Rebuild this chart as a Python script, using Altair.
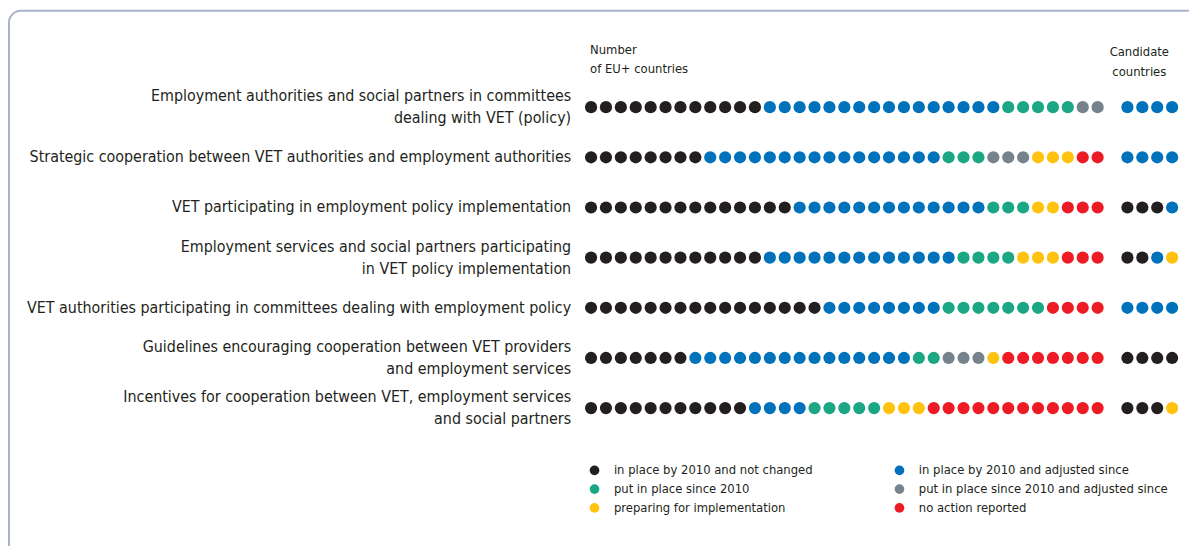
import altair as alt
import pandas as pd

row_labels = [
    "Employment authorities and social partners in committees\ndealing with VET (policy)",
    "Strategic cooperation between VET authorities and employment authorities",
    "VET participating in employment policy implementation",
    "Employment services and social partners participating\nin VET policy implementation",
    "VET authorities participating in committees dealing with employment policy",
    "Guidelines encouraging cooperation between VET providers\nand employment services",
    "Incentives for cooperation between VET, employment services\nand social partners",
]

categories = [
    "in place by 2010 and not changed",
    "in place by 2010 and adjusted since",
    "put in place since 2010",
    "put in place since 2010 and adjusted since",
    "preparing for implementation",
    "no action reported",
]
colors = ["#231f20", "#0072bc", "#1ba784", "#76838d", "#ffc20e", "#ed1c24"]

# EU+ countries: number of countries per category, for each row
eu_not_changed = [12, 8, 14, 12, 16, 7, 11]
eu_adjusted = [16, 16, 13, 13, 8, 15, 4]
eu_since_2010 = [5, 3, 3, 4, 7, 2, 5]
eu_since_adjusted = [2, 3, 0, 0, 0, 3, 0]
eu_preparing = [0, 3, 2, 3, 0, 1, 3]
eu_no_action = [0, 2, 3, 3, 4, 7, 12]

# Candidate countries
cand_not_changed = [0, 0, 3, 2, 0, 4, 3]
cand_adjusted = [4, 4, 1, 1, 4, 0, 0]
cand_since_2010 = [0, 0, 0, 0, 0, 0, 0]
cand_since_adjusted = [0, 0, 0, 0, 0, 0, 0]
cand_preparing = [0, 0, 0, 1, 0, 0, 1]
cand_no_action = [0, 0, 0, 0, 0, 0, 0]

eu_counts = [eu_not_changed, eu_adjusted, eu_since_2010, eu_since_adjusted, eu_preparing, eu_no_action]
cand_counts = [cand_not_changed, cand_adjusted, cand_since_2010, cand_since_adjusted, cand_preparing, cand_no_action]

CAND_START = 36  # slot index where candidate dots begin (after a gap)

dots = []
for r in range(len(row_labels)):
    k = 0
    for c, cat in enumerate(categories):
        for _ in range(eu_counts[c][r]):
            dots.append({"row": r, "slot": k, "status": cat})
            k += 1
    k = CAND_START
    for c, cat in enumerate(categories):
        for _ in range(cand_counts[c][r]):
            dots.append({"row": r, "slot": k, "status": cat})
            k += 1
dots_df = pd.DataFrame(dots)
labels_df = pd.DataFrame({"row": list(range(len(row_labels))), "label": row_labels})
one = pd.DataFrame({"a": [0]})

W, H = 1189, 538
FONT = "Liberation Sans Narrow, DejaVu Sans Condensed, Roboto Condensed, Arial Narrow, Liberation Sans, sans-serif"
TXT = "#231f20"

xscale = alt.Scale(domain=[-39.133, 40.133], nice=False, zero=False)
yscale = alt.Scale(domain=[-1.941, 8.713], nice=False, zero=False, reverse=True)

frame = alt.Chart(one).mark_rect(
    cornerRadius=12, fill="white", stroke="#a8b4c6", strokeWidth=2
).encode(x=alt.value(1), y=alt.value(1), x2=alt.value(1400), y2=alt.value(800))

points = alt.Chart(dots_df).mark_point(filled=True, shape="circle", size=150, opacity=1).encode(
    x=alt.X("slot:Q", scale=xscale, axis=None),
    y=alt.Y("row:Q", scale=yscale, axis=None),
    color=alt.Color(
        "status:N",
        scale=alt.Scale(domain=categories, range=colors),
        legend=alt.Legend(
            title=None, orient="none", legendX=584, legendY=457, columns=2,
            direction="horizontal",
            symbolType="circle", symbolSize=95, symbolStrokeWidth=0, symbolOpacity=1,
            labelFontSize=13, labelFont=FONT, labelColor=TXT, labelOffset=13,
            rowPadding=5, columnPadding=80, padding=0, labelLimit=400,
        ),
    ),
)

is_multi = "indexof(datum.label, '\\n') >= 0"

label_common = dict(
    align="right", baseline="middle", lineBreak="\n", lineHeight=22,
    fontSize=16, font=FONT, color=TXT,
)
labels_single = alt.Chart(labels_df).transform_filter(
    "indexof(datum.label, '\\n') < 0"
).mark_text(**label_common).encode(
    x=alt.value(567),
    y=alt.Y("row:Q", scale=yscale, axis=None),
    text="label:N",
)
labels_multi = alt.Chart(labels_df).transform_filter(is_multi).mark_text(
    dy=-11, **label_common
).encode(
    x=alt.value(567),
    y=alt.Y("row:Q", scale=yscale, axis=None),
    text="label:N",
)

head_eu = alt.Chart(one).mark_text(
    text=["Number", "of EU+ countries"], align="left", baseline="middle",
    lineHeight=20, fontSize=13, font=FONT, color=TXT,
).encode(x=alt.value(586), y=alt.value(40))

head_cand = alt.Chart(one).mark_text(
    text=["Candidate", "countries"], align="center", baseline="middle",
    lineHeight=20, fontSize=13, font=FONT, color=TXT,
).encode(x=alt.value(1139), y=alt.value(43))

chart = alt.layer(frame, labels_single, labels_multi, points, head_eu, head_cand).properties(
    width=W, height=H,
    autosize=alt.AutoSizeParams(type="none"),
    padding=0,
    background="white",
).configure_view(stroke=None)

chart.save("out.html", embed_options={"renderer": "svg", "actions": False})
